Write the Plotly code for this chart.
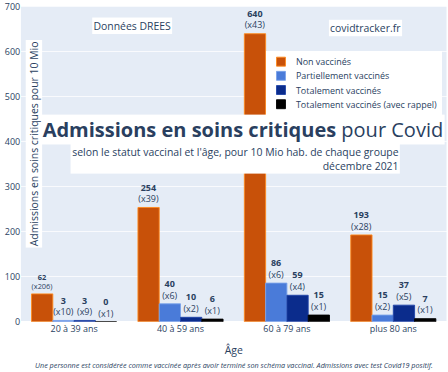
import plotly.graph_objects as go

categories = ["20 à 39 ans", "40 à 59 ans", "60 à 79 ans", "plus 80 ans"]
series_names = ["Non vaccinés", "Partiellement vaccinés", "Totalement vaccinés",
                "Totalement vaccinés (avec rappel)"]
non_vax = [62, 254, 640, 193]
partial_vax = [3, 40, 86, 15]
full_vax = [3, 10, 59, 37]
booster_vax = [0, 6, 15, 7]
non_vax_mult = [206, 39, 43, 28]
partial_vax_mult = [10, 6, 6, 2]
full_vax_mult = [9, 2, 4, 5]
booster_vax_mult = [1, 1, 1, 1]

colors = ["#c85109", "#4a7bd9", "#0b2c8c", "#000000"]
line_colors = ["#ff8a1c", "#7aa2ea", "#1f43a8", "#000000"]

# Figure is laid out at 600x498 and displayed scaled to 448x372.
W, H = 600, 498
SCALE = 448 / 600

fig = go.Figure()
for name, vals, mults, c, lc in zip(
        series_names,
        [non_vax, partial_vax, full_vax, booster_vax],
        [non_vax_mult, partial_vax_mult, full_vax_mult, booster_vax_mult],
        colors, line_colors):
    fig.add_trace(go.Bar(
        x=categories, y=vals, name=name,
        marker=dict(color=c, line=dict(color=lc, width=1.2)),
        text=[f"<b>{v}</b><br>(x{m})" for v, m in zip(vals, mults)],
        textposition="outside",
        textfont=dict(size=12, color="#2a3f5f"),
        cliponaxis=False,
    ))

fig.update_layout(
    width=W, height=H,
    template="plotly",
    font=dict(family="Open Sans", color="#2a3f5f"),
    margin=dict(l=28, r=2, t=9, b=67),
    barmode="group", bargap=0.2, bargroupgap=0,
    showlegend=True,
    legend=dict(x=0.576, y=0.86, xanchor="left", yanchor="top",
                bgcolor="white", font=dict(size=12)),
    xaxis=dict(title=dict(text="Âge", font=dict(size=14), standoff=17),
               tickfont=dict(size=12), automargin=False),
    yaxis=dict(range=[0, 700], dtick=100, tickfont=dict(size=12),
               automargin=False),
    annotations=[
        dict(text="Admissions en soins critiques pour 10 Mio", textangle=-90,
             x=0.0307, y=0.565, xref="paper", yref="paper", showarrow=False,
             xanchor="center", yanchor="middle",
             font=dict(size=14), bgcolor="white"),
        dict(text="<b>Admissions en soins critiques</b> pour Covid",
             x=0.522, y=0.61, xref="paper", yref="paper", showarrow=False,
             xanchor="center", yanchor="middle",
             font=dict(size=26.8), bgcolor="white"),
        dict(text="selon le statut vaccinal et l'âge, pour 10 Mio hab. de chaque groupe<br>décembre 2021",
             x=0.892, y=0.517, xref="paper", yref="paper", showarrow=False,
             xanchor="right", yanchor="middle", align="right",
             font=dict(size=14), bgcolor="white"),
        dict(text="Données DREES", x=0.261, y=0.94, xref="paper", yref="paper",
             xanchor="center", yanchor="middle",
             showarrow=False, font=dict(size=14), bgcolor="white"),
        dict(text="covidtracker.fr", x=0.809, y=0.9325, xref="paper", yref="paper",
             xanchor="center", yanchor="middle",
             showarrow=False, font=dict(size=14), bgcolor="white"),
        dict(text="<i>Une personne est considérée comme vaccinée après avoir terminé son schéma vaccinal. Admissions avec test Covid19 positif.</i>",
             x=0.5, y=-0.139, xref="paper", yref="paper", showarrow=False,
             xanchor="center", yanchor="middle", font=dict(size=9.7)),
    ],
)

post = (
    "document.documentElement.style.overflow='hidden';"
    "document.body.style.margin='0';document.body.style.overflow='hidden';"
    "var gd=document.getElementById('{plot_id}');"
    "gd.style.transformOrigin='0 0';"
    f"gd.style.transform='scale({SCALE:.5f})';"
)

fig.write_html("out.html", post_script=post,
               config={"displayModeBar": False})
